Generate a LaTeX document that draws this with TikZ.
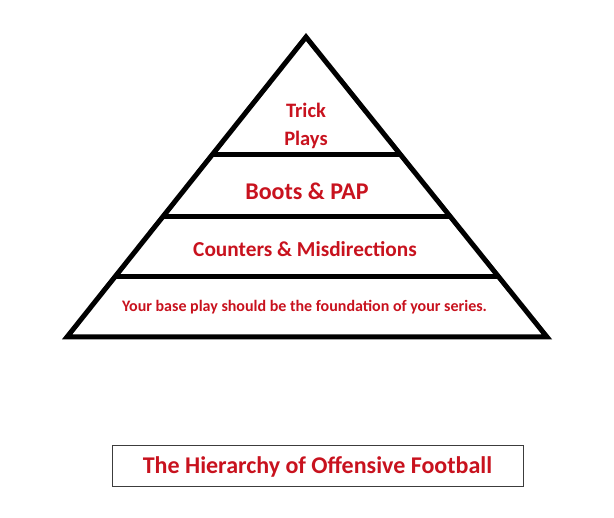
\documentclass[tikz,border=0pt]{standalone}
\usepackage{fontspec}
\setmainfont{Carlito}
\usetikzlibrary{calc}

\definecolor{playred}{RGB}{200,18,30}
\definecolor{framegray}{RGB}{60,60,60}

\begin{document}
\begin{tikzpicture}[x=1pt,y=-1pt,
    level/.style={text=playred, font=\bfseries, align=center, inner sep=0pt}]
            \useasboundingbox (0,0) rectangle (614,518);

            % Pyramid outline
            \coordinate (apex) at (306,37);
            \coordinate (baseL) at (67,337);
            \coordinate (baseR) at (547,337);
            \draw[line width=5pt, line join=miter] (apex) -- (baseR) -- (baseL) -- cycle;

            % Level dividers
            \foreach \y/\lvl in {155/top,216/mid,277/low} {
                \pgfmathsetmacro{\t}{(337-\y)/300}
                \coordinate (\lvl L) at ($(baseL)!\t!(apex)$);
                \coordinate (\lvl R) at ($(baseR)!\t!(apex)$);
                \draw[line width=5pt] (\lvl L) -- (\lvl R);
            }

            % Level labels
            \node[level, font=\bfseries\fontsize{20.5}{28}\selectfont] (trick) at (306,126) {Trick\\Plays};
            \node[level, font=\bfseries\fontsize{24}{28}\selectfont] (boots) at (307,191) {Boots \& PAP};
            \node[level, font=\bfseries\fontsize{21.3}{25}\selectfont] (counters) at (305,249) {Counters \& Misdirections};
            \node[level, font=\bfseries\fontsize{16}{19}\selectfont] (base) at (304.5,307.5) {Your base play should be the foundation of your series.};

            % Title box
            \node[draw=framegray, line width=1pt, minimum width=411pt, minimum height=41pt,
                  text=playred, font=\bfseries\fontsize{24}{28}\selectfont] (title) at (317.5,466.5) {The Hierarchy of Offensive Football};
        \end{tikzpicture}
\end{document}
